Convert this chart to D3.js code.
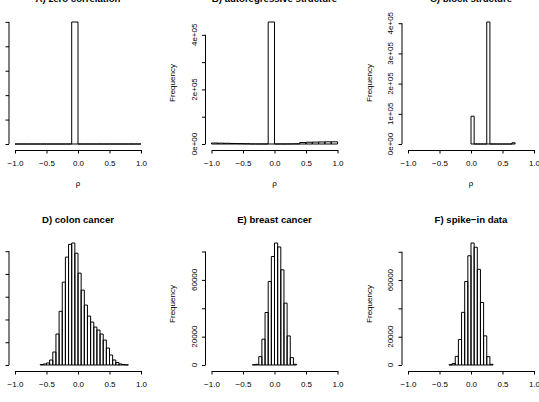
<!DOCTYPE html>
<html>
<head>
<meta charset="utf-8">
<script src="https://cdn.jsdelivr.net/npm/d3@7"></script>
<style>
body { margin: 0; background: #fff; }
svg text { font-family: "Liberation Sans", Arial, Helvetica, sans-serif; fill: #000; }
</style>
</head>
<body>
<svg id="chart" width="539" height="402"></svg>
<script>

// panel titles
var titles = ["A) zero correlation", "B) autoregressive structure", "C) block structure",
              "D) colon cancer", "E) breast cancer", "F) spike\u2212in data"];

// histograms: first break, bin width, counts per bin
var startA = -1, widthA = 0.1,
    countsA = [0,0,0,0,0,0,0,0,0,499500,0,0,0,0,0,0,0,0,0,0];

var startB = -1, widthB = 0.1,
    countsB = [3500,3000,2600,2000,1500,1000,300,150,100,447000,100,150,250,600,5500,6500,7000,7500,8000,8000];

var startC = 0, widthC = 0.05,
    countsC = [92000,0,0,0,0,404000,0,0,0,0,0,0,0,4000];

var startD = -0.6, widthD = 0.05,
    countsD = [1100,2200,4400,11000,28500,68000,118000,182000,237000,265000,268000,245600,201800,
               164500,131600,107500,94300,83300,76800,68000,54800,37300,21900,11000,5500,2200,1100,400];

var startE = -0.35, widthE = 0.05,
    countsE = [200,500,5900,18200,37000,58900,76500,86000,83200,67100,43600,20500,5200,500];

var startF = -0.35, widthF = 0.05,
    countsF = [200,1000,6100,18000,37200,59000,77200,86200,83200,67600,44200,20600,5900,500];

// axis ticks (labels of A and D lie outside the cropped picture)
var xTicks = [-1, -0.5, 0, 0.5, 1];
var xTickLabels = ["\u22121.0", "\u22120.5", "0.0", "0.5", "1.0"];

var yTicksA = [0, 1e5, 2e5, 3e5, 4e5, 5e5], yLabelsA = [];
var yTicksB = [0, 1e5, 2e5, 3e5, 4e5],      yLabelsB = ["0e+00","","2e+05","","4e+05"];
var yTicksC = [0, 1e5, 2e5, 3e5, 4e5],      yLabelsC = ["0e+00","1e+05","2e+05","3e+05","4e+05"];
var yTicksD = [0, 50000, 100000, 150000, 200000, 250000], yLabelsD = [];
var yTicksE = [0, 20000, 40000, 60000, 80000], yLabelsE = ["0","20000","","60000",""];
var yTicksF = [0, 20000, 40000, 60000, 80000], yLabelsF = ["0","20000","","60000",""];

var panels = [
    {start: startA, width: widthA, counts: countsA, yTicks: yTicksA, yLabels: yLabelsA, ytitle: false},
    {start: startB, width: widthB, counts: countsB, yTicks: yTicksB, yLabels: yLabelsB, ytitle: true},
    {start: startC, width: widthC, counts: countsC, yTicks: yTicksC, yLabels: yLabelsC, ytitle: true},
    {start: startD, width: widthD, counts: countsD, yTicks: yTicksD, yLabels: yLabelsD, ytitle: false},
    {start: startE, width: widthE, counts: countsE, yTicks: yTicksE, yLabels: yLabelsE, ytitle: true},
    {start: startF, width: widthF, counts: countsF, yTicks: yTicksF, yLabels: yLabelsF, ytitle: true}
];

// layout (the original figure is cropped on the left and at the top/bottom)
var colLeft = [15, 211.5, 408], plotW = 126;
var rowBase = [144, 365], rowTop = [22, 243];

var svg = d3.select("#chart");

panels.forEach(function(p, i) {
    var col = i % 3, row = Math.floor(i / 3);
    var left = colLeft[col], base = rowBase[row];
    var g = svg.append("g");

    var x = d3.scaleLinear().domain([-1, 1]).range([left, left + plotW]);
    var y = d3.scaleLinear().domain([0, d3.max(p.counts)]).range([base, rowTop[row]]);

    // bars (as paths so empty bins still show as a line on the baseline)
    g.selectAll("path.bar")
        .data(p.counts)
        .enter()
        .append("path")
        .attr("class", "bar")
        .attr("d", function(d, j) {
            var x0 = x(p.start + j * p.width), x1 = x(p.start + (j + 1) * p.width);
            return "M" + x0 + "," + y(0) + "V" + y(d) + "H" + x1 + "V" + y(0) + "Z";
        })
        .attr("fill", "none")
        .attr("stroke", "#000")
        .attr("stroke-width", 1);

    // x axis
    var xAxis = g.append("g")
        .attr("transform", "translate(0," + (base + 6) + ")")
        .call(d3.axisBottom(x)
            .tickValues(xTicks)
            .tickFormat(function(d, k) { return xTickLabels[k]; })
            .tickSize(3.5)
            .tickSizeOuter(0)
            .tickPadding(7));
    xAxis.attr("font-size", 8).attr("font-family", null);
    xAxis.selectAll("path, line").attr("stroke", "#000");

    // y axis: ticks from d3, line only from 0 to last tick like R
    var lastTick = p.yTicks[p.yTicks.length - 1];
    var yAxis = g.append("g")
        .attr("transform", "translate(" + (left - 6) + ",0)")
        .call(d3.axisLeft(y).tickValues(p.yTicks).tickFormat("").tickSize(3.5));
    yAxis.select(".domain").remove();
    yAxis.selectAll("line").attr("stroke", "#000");
    yAxis.append("line")
        .attr("y1", y(0)).attr("y2", y(lastTick))
        .attr("stroke", "#000");

    g.selectAll("text.ylab")
        .data(p.yLabels)
        .enter()
        .append("text")
        .attr("class", "ylab")
        .attr("transform", function(d, k) { return "translate(" + (left - 15) + "," + y(p.yTicks[k]) + ") rotate(-90)"; })
        .attr("text-anchor", "middle")
        .attr("font-size", 8)
        .text(function(d) { return d; });

    // axis titles
    if (p.ytitle) {
        g.append("text")
            .attr("transform", "translate(" + (left - 36.5) + "," + ((base + rowTop[row]) / 2) + ") rotate(-90)")
            .attr("text-anchor", "middle")
            .attr("font-size", 8)
            .text("Frequency");
    }

    g.append("text")
        .attr("x", left + plotW / 2)
        .attr("y", base + 41.5)
        .attr("text-anchor", "middle")
        .attr("font-size", 8)
        .text("\u03c1");

    // panel title
    g.append("text")
        .attr("x", left + plotW / 2)
        .attr("y", base - 142)
        .attr("text-anchor", "middle")
        .attr("font-size", 9.6)
        .attr("font-weight", "bold")
        .text(titles[i]);
});

</script>
</body>
</html>
